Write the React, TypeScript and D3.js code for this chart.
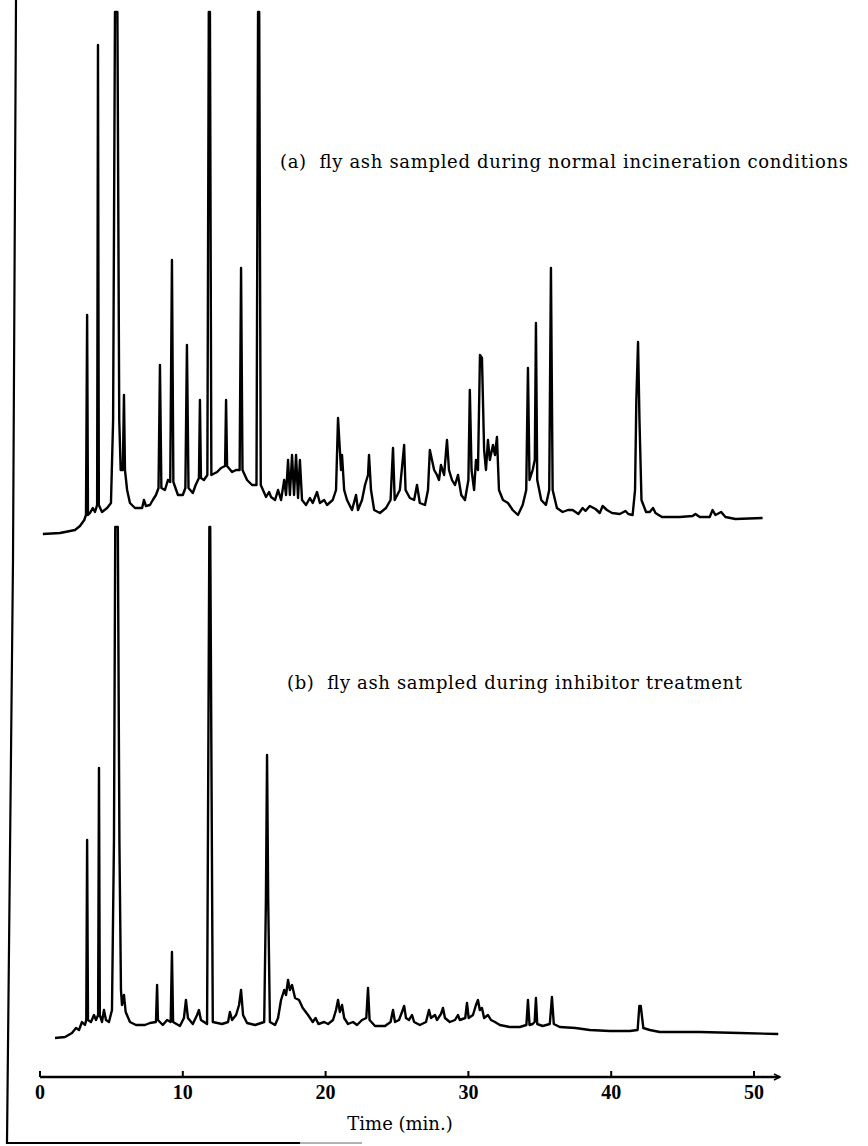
import React from "react";
import * as d3 from "d3";

const W = 868;
const H = 1146;

const xTicks = [0, 10, 20, 30, 40, 50];
const labelA = "(a)  fly ash sampled during normal incineration conditions";
const labelB = "(b)  fly ash sampled during inhibitor treatment";
const axisTitle = "Time (min.)";

// trace (a): [time (min), detector response (arb.)]
const traceA: [number, number][] = [
  [0.2, 6], [1.4, 7], [2.45, 10], [2.8, 14], [3.1, 20], [3.22, 25], [3.3, 225], [3.36, 25],
  [3.5, 27], [3.7, 32], [3.85, 28], [4.0, 35], [4.06, 495], [4.12, 35], [4.34, 28], [4.7, 32],
  [4.97, 37], [5.12, 120], [5.25, 528], [5.42, 528], [5.55, 120], [5.65, 70], [5.8, 70], [5.88, 145],
  [5.95, 70], [6.1, 50], [6.3, 37], [6.65, 32], [7.15, 32], [7.28, 40], [7.42, 34], [7.7, 35],
  [7.9, 40], [8.12, 45], [8.3, 52], [8.4, 175], [8.5, 52], [8.75, 50], [8.96, 60], [9.12, 58],
  [9.24, 280], [9.34, 58], [9.66, 45], [10.0, 45], [10.18, 52], [10.29, 195], [10.4, 52], [10.7, 47],
  [10.9, 55], [11.13, 62], [11.2, 140], [11.27, 62], [11.48, 60], [11.72, 65], [11.82, 528], [11.9, 528],
  [12.0, 65], [12.4, 68], [12.68, 72], [12.96, 74], [13.03, 140], [13.1, 74], [13.45, 68], [13.73, 70],
  [13.98, 70], [14.08, 272], [14.18, 70], [14.5, 60], [14.85, 55], [15.16, 55], [15.27, 528], [15.35, 528],
  [15.46, 55], [15.83, 43], [16.04, 48], [16.18, 43], [16.46, 40], [16.67, 50], [16.88, 40], [17.1, 60],
  [17.23, 45], [17.37, 80], [17.5, 45], [17.65, 85], [17.79, 45], [17.93, 85], [18.07, 42], [18.2, 80],
  [18.35, 40], [18.63, 35], [18.9, 42], [19.1, 37], [19.4, 48], [19.6, 37], [19.9, 40], [20.1, 35],
  [20.5, 40], [20.73, 50], [20.87, 122], [21.0, 90], [21.08, 70], [21.15, 85], [21.3, 50], [21.5, 40],
  [21.85, 30], [22.13, 45], [22.27, 30], [22.55, 40], [22.76, 55], [22.97, 65], [23.04, 85], [23.18, 50],
  [23.4, 30], [23.8, 27], [24.23, 32], [24.55, 40], [24.72, 92], [24.84, 40], [25.2, 50], [25.5, 95],
  [25.6, 50], [25.9, 42], [26.2, 40], [26.4, 55], [26.6, 37], [26.96, 35], [27.17, 50], [27.3, 90],
  [27.45, 80], [27.6, 70], [27.8, 65], [27.94, 60], [28.08, 75], [28.3, 65], [28.5, 100], [28.64, 70],
  [28.85, 60], [29.06, 55], [29.27, 65], [29.5, 45], [29.76, 40], [30.0, 60], [30.1, 150], [30.22, 70],
  [30.4, 50], [30.53, 80], [30.67, 70], [30.81, 185], [30.95, 182], [31.1, 90], [31.23, 70], [31.37, 100],
  [31.5, 80], [31.72, 95], [31.86, 85], [32.0, 103], [32.14, 50], [32.42, 40], [32.77, 37], [33.1, 30],
  [33.47, 25], [33.8, 35], [34.05, 50], [34.17, 172], [34.28, 60], [34.5, 70], [34.65, 80], [34.73, 217], [34.82, 60],
  [35.1, 40], [35.43, 35], [35.66, 50], [35.78, 272], [35.9, 50], [36.2, 32], [36.6, 28], [36.97, 30],
  [37.3, 30], [37.7, 26], [38.0, 32], [38.2, 29], [38.5, 34], [38.9, 31], [39.2, 27], [39.4, 34],
  [39.7, 30], [40.06, 27], [40.6, 26], [41.0, 29], [41.2, 26], [41.5, 25], [41.67, 50], [41.76, 140],
  [41.88, 198], [41.98, 120], [42.12, 40], [42.44, 28], [42.7, 28], [42.93, 32], [43.1, 27], [43.55, 23],
  [44.8, 23], [45.7, 24], [45.9, 26], [46.2, 23], [46.9, 23], [47.1, 30], [47.3, 25], [47.7, 28],
  [48.0, 23], [48.7, 21], [50.6, 22],
];

// trace (b): [time (min), detector response (arb.)]
const traceB: [number, number][] = [
  [1.05, 2], [1.75, 3], [2.24, 7], [2.52, 12], [2.73, 10], [2.94, 18], [3.15, 15], [3.24, 20],
  [3.3, 200], [3.36, 20], [3.57, 18], [3.78, 25], [3.92, 20], [4.07, 25], [4.13, 272], [4.19, 25],
  [4.34, 18], [4.48, 30], [4.62, 20], [4.83, 18], [5.04, 30], [5.18, 200], [5.27, 513], [5.45, 513], [5.56, 200], [5.67, 50],
  [5.74, 35], [5.88, 45], [6.0, 28], [6.3, 18], [6.72, 15], [7.35, 15], [7.7, 17], [8.12, 18],
  [8.2, 55], [8.26, 20], [8.6, 15], [8.9, 20], [9.15, 18], [9.24, 88], [9.32, 18], [9.8, 14],
  [10.08, 22], [10.22, 40], [10.36, 22], [10.7, 16], [11.0, 25], [11.13, 30], [11.27, 20], [11.7, 16],
  [11.86, 513], [11.92, 513], [12.1, 18], [12.75, 16], [13.17, 18], [13.3, 28], [13.45, 20], [13.73, 25],
  [13.94, 35], [14.08, 50], [14.22, 25], [14.5, 17], [15.06, 15], [15.7, 18], [15.82, 140], [15.9, 285],
  [15.98, 140], [16.1, 18], [16.46, 15], [16.67, 22], [16.88, 40], [17.1, 50], [17.23, 45], [17.37, 60],
  [17.5, 50], [17.65, 55], [17.86, 42], [18.14, 40], [18.4, 32], [18.77, 25], [19.1, 18], [19.3, 22],
  [19.5, 16], [19.9, 18], [20.17, 16], [20.52, 20], [20.73, 30], [20.87, 40], [21.0, 28], [21.15, 35],
  [21.3, 22], [21.57, 16], [21.92, 18], [22.2, 15], [22.55, 20], [22.85, 22], [22.97, 52], [23.08, 20],
  [23.46, 14], [24.16, 14], [24.55, 18], [24.72, 30], [24.86, 18], [25.14, 20], [25.35, 28], [25.5, 34],
  [25.63, 22], [25.84, 20], [26.05, 25], [26.2, 18], [26.6, 15], [27.03, 18], [27.24, 30], [27.38, 22],
  [27.66, 25], [27.8, 20], [28.08, 26], [28.22, 32], [28.36, 22], [28.7, 18], [29.06, 20], [29.27, 25],
  [29.4, 20], [29.78, 22], [29.9, 37], [30.02, 22], [30.32, 25], [30.53, 35], [30.67, 40], [30.8, 30],
  [30.95, 32], [31.1, 22], [31.37, 25], [31.58, 20], [31.86, 18], [32.2, 15], [32.9, 13], [33.6, 13],
  [34.06, 15], [34.17, 40], [34.28, 15], [34.5, 16], [34.64, 18], [34.73, 42], [34.82, 16], [35.2, 14], [35.7, 16],
  [35.85, 43], [35.98, 16], [36.4, 13], [37.5, 12], [38.5, 10], [39.9, 9], [41.3, 9], [41.85, 10],
  [41.97, 34], [42.07, 34], [42.25, 12], [42.7, 10], [43.4, 8], [46.2, 8], [49.0, 7], [51.7, 6],
];

export default function App() {
  const x = d3.scaleLinear().domain([0, 50]).range([40, 754]);
  const yA = d3.scaleLinear().domain([0, 525]).range([540, 15]);
  const yB = d3.scaleLinear().domain([0, 525]).range([1040, 515]);

  const lineA = d3
    .line<[number, number]>()
    .x((d) => x(d[0]))
    .y((d) => yA(d[1]));
  const lineB = d3
    .line<[number, number]>()
    .x((d) => x(d[0]))
    .y((d) => yB(d[1]));

  const axisY = 1077;
  const axisEnd = 780;

  return (
    <svg
      width={W}
      height={H}
      style={{ position: "absolute", left: 0, top: 0, background: "#fff" }}
    >
      {/* frame */}
      <path d="M16,0 L13,560 L7,1143 L300,1143" fill="none" stroke="#000" strokeWidth={2.2} />
      <path d="M300,1143 L362,1143" fill="none" stroke="#000" strokeWidth={1} opacity={0.6} />

      <path d={lineA(traceA) || ""} fill="none" stroke="#000" strokeWidth={2.4} strokeLinejoin="round" />
      <path d={lineB(traceB) || ""} fill="none" stroke="#000" strokeWidth={2.4} strokeLinejoin="round" />

      <text
        x={280}
        y={168}
        fontFamily="DejaVu Serif"
        fontSize={18}
        textLength={568}
        lengthAdjust="spacing"
        style={{ whiteSpace: "pre" }}
      >
        {labelA}
      </text>
      <text
        x={287}
        y={689}
        fontFamily="DejaVu Serif"
        fontSize={18}
        textLength={455}
        lengthAdjust="spacing"
        style={{ whiteSpace: "pre" }}
      >
        {labelB}
      </text>

      {/* time axis */}
      <line x1={x(0)} x2={axisEnd} y1={axisY} y2={axisY} stroke="#000" strokeWidth={2.5} />
      <path
        d={`M${axisEnd - 6},${axisY - 3} L${axisEnd},${axisY} L${axisEnd - 6},${axisY + 3}`}
        fill="none"
        stroke="#000"
        strokeWidth={1.5}
      />
      {xTicks.map((t) => (
        <g key={t}>
          <line x1={x(t)} x2={x(t)} y1={axisY} y2={axisY - 6} stroke="#000" strokeWidth={2} />
          <text
            x={x(t)}
            y={axisY + 22}
            textAnchor="middle"
            fontFamily="Liberation Serif"
            fontWeight="bold"
            fontSize={20}
          >
            {t}
          </text>
        </g>
      ))}
      <text
        x={400}
        y={1130}
        textAnchor="middle"
        fontFamily="DejaVu Serif"
        fontSize={18}
      >
        {axisTitle}
      </text>
    </svg>
  );
}
